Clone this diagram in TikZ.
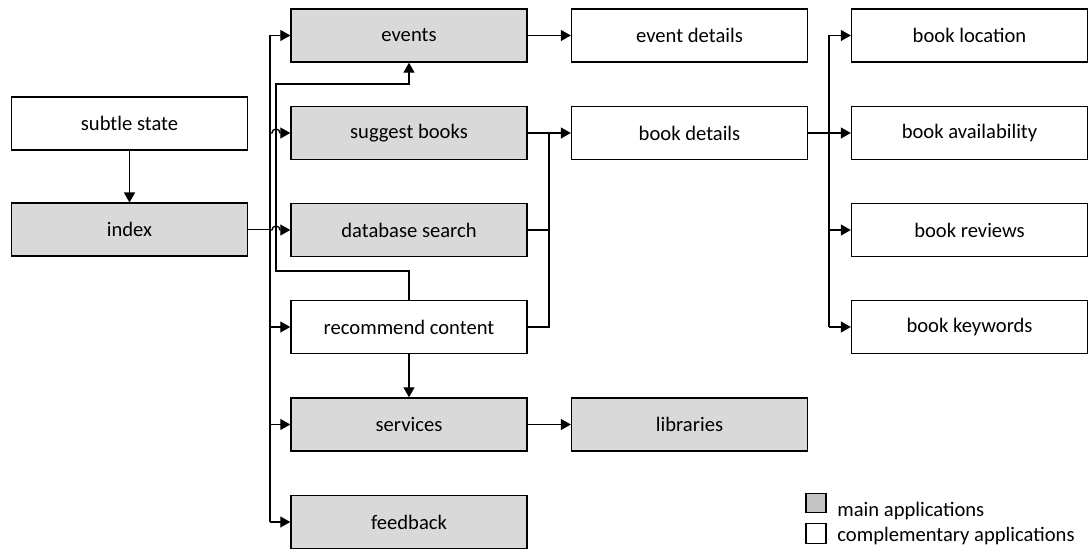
\documentclass[tikz,border=0pt]{standalone}
\usepackage{fontspec}
\setmainfont{Carlito}
\usepackage{tikz}
\usetikzlibrary{arrows.meta, positioning, calc}
\definecolor{mainfill}{HTML}{D9D9D9}
\definecolor{legendfill}{HTML}{C4C4C4}

\tikzset{
  app/.style={draw, line width=0.7pt, minimum width=118pt, minimum height=26.5pt,
    inner sep=0pt, font=\fontsize{10.3}{12}\selectfont},
  mainapp/.style={app, fill=mainfill},
  compapp/.style={app, fill=white},
  link/.style={line width=0.65pt},
  arr/.style={link, -{Triangle[length=5pt,width=5.5pt]}},
  legendbox/.style={draw, line width=0.6pt, minimum width=10pt, minimum height=9.8pt, inner sep=0pt},
  legendtext/.style={anchor=base west, inner sep=0pt, font=\fontsize{10.3}{12}\selectfont}
}

\begin{document}
\begin{tikzpicture}[x=0.5pt, y=-0.5pt]
  \useasboundingbox (0,0) rectangle (1090,549);

  % first column
  \node[compapp] (subtle) at (129.5,123.7) {subtle state};
  \node[mainapp] (index) at (129.5,229.7) {index};

  % second column
  \node[mainapp] (events) at (409,35.5) {events};
  \node[mainapp] (suggest) at (409,133) {suggest books};
  \node[mainapp] (dbsearch) at (409,230) {database search};
  \node[compapp] (recommend) at (409,327) {recommend content};
  \node[mainapp] (services) at (409,424.5) {services};
  \node[mainapp] (feedback) at (409,522) {feedback};

  % third column
  \node[compapp] (evdetails) at (689.5,35.5) {event details};
  \node[compapp] (bkdetails) at (689.5,133) {book details};
  \node[mainapp] (libraries) at (689.5,424.5) {libraries};

  % fourth column
  \node[compapp] (bklocation) at (969.5,35.5) {book location};
  \node[compapp] (bkavail) at (969.5,133) {book availability};
  \node[compapp] (bkreviews) at (969.5,230) {book reviews};
  \node[compapp] (bkkeywords) at (969.5,327) {book keywords};

  % bus positions
  \coordinate (busA) at (270,0);
  \coordinate (busB) at (276,0);
  \coordinate (busC) at (549,0);
  \coordinate (busD) at (829,0);
  \coordinate (loopLow) at (409,271);
  \coordinate (loopHigh) at (409,84);

  \draw[arr] (subtle) -- (index);

  % index to the second column
  \draw[link] (index.east) -- (busA |- index.east);
  \draw[link] (busA |- events.west) -- (busA |- feedback.west);
  \draw[arr] (busA |- events.west) -- (events.west);
  \draw[arr] (busA |- suggest.west) -- ($(busB |- suggest.west)+(-4,0)$)
    arc[start angle=180, end angle=360, radius=4] -- (suggest.west);
  \draw[arr] (busA |- dbsearch.west) -- ($(busB |- dbsearch.west)+(-4,0)$)
    arc[start angle=180, end angle=360, radius=4] -- (dbsearch.west);
  \draw[arr] (busA |- recommend.west) -- (recommend.west);
  \draw[arr] (busA |- services.west) -- (services.west);
  \draw[arr] (busA |- feedback.west) -- (feedback.west);

  % recommend content back to events
  \draw[arr] (recommend.north) -- (loopLow) -- (busB |- loopLow)
    -- (busB |- loopHigh) -- (loopHigh) -- (events.south);
  \draw[arr] (recommend) -- (services);

  % second to third column
  \draw[arr] (events) -- (evdetails);
  \draw[arr] (suggest) -- (bkdetails);
  \draw[link] (dbsearch.east) -- (busC |- dbsearch.east);
  \draw[link] (recommend.east) -- (busC |- recommend.east) -- (busC |- suggest.east);
  \draw[arr] (services) -- (libraries);

  % book details to fourth column
  \draw[link] (bkdetails.east) -- (busD |- bkdetails.east);
  \draw[link] (busD |- bklocation.west) -- (busD |- bkkeywords.west);
  \foreach \b in {bklocation, bkavail, bkreviews, bkkeywords}
    \draw[arr] (busD |- \b.west) -- (\b.west);

  % legend
  \node[legendbox, fill=legendfill] (keymain) at (816,503) {};
  \node[legendbox, fill=white] (keycomp) at (816,533.5) {};
  \node[legendtext] (keymaintext) at (837,516.5) {main applications};
  \node[legendtext] (keycomptext) at (837,541.5) {complementary applications};
\end{tikzpicture}
\end{document}
